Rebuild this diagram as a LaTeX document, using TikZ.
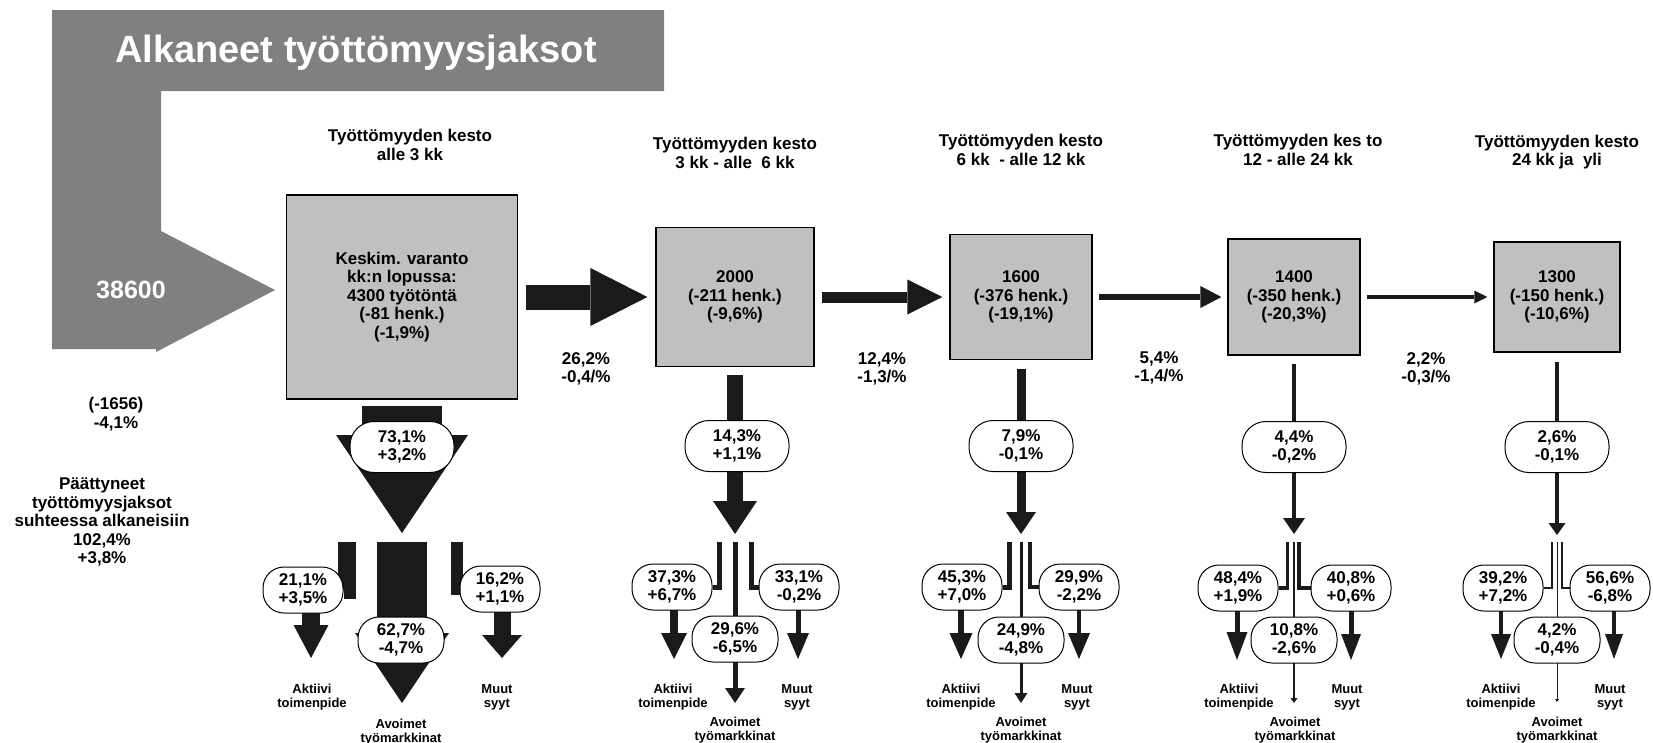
\documentclass[tikz,border=0pt]{standalone}
\usepackage{fontspec}
\setmainfont{Liberation Sans}
\usetikzlibrary{arrows.meta}
\definecolor{harmaa}{RGB}{128,128,128}
\definecolor{vaalea}{RGB}{192,192,192}
\definecolor{muste}{RGB}{26,26,26}
\pgfdeclarelayer{tausta}
\pgfsetlayers{tausta,main}
\tikzset{every picture/.style = {x=1pt, y=-1pt}}
\tikzset{teksti/.style = {align=center, inner sep=0, font=\fontsize{17}{18.5}\selectfont\bfseries}}
\tikzset{pieni/.style = {align=center, inner sep=0, font=\fontsize{13}{14}\selectfont\bfseries}}
\tikzset{kasti/.style = {teksti, draw, fill=vaalea, line width=1.2pt}}
\tikzset{osuus/.style = {teksti, draw, fill=white, line width=1pt, rounded corners=24pt, minimum width=104pt, minimum height=51pt}}
\tikzset{haara/.style = {osuus, rounded corners=21pt, minimum width=80pt, minimum height=46pt}}
\tikzset{nuoli/.style = {draw=muste}}
\tikzset{kolmio/.style 2 args = {-{Triangle[length=#1, width=#2, line width=0pt]}}}

\begin{document}
\begin{tikzpicture}
  \useasboundingbox (0,0) rectangle (1653,742);
  \fill[harmaa] (52,10) -- (664,10) -- (664,91) -- (161,91) -- (161,231)
    -- (275,290) -- (156,352) -- (156,349) -- (52,349) -- cycle;
  \node[teksti, text=white, font=\fontsize{38}{40}\selectfont\bfseries] (otsikko) at (356,53) {Alkaneet työttömyysjaksot};
  \node[teksti, text=white, font=\fontsize{25}{27}\selectfont\bfseries] (alku) at (131,290) {38600};

  \node[teksti] (o1) at (410,145) {Työttömyyden kesto\\alle 3 kk};
  \node[teksti] (o2) at (735,153) {Työttömyyden kesto\\3 kk - alle\ \ 6 kk};
  \node[teksti] (o3) at (1021,150) {Työttömyyden kesto\\6 kk\ \ - alle 12 kk};
  \node[teksti] (o4) at (1298,150) {Työttömyyden kes to\\12 - alle 24 kk};
  \node[teksti] (o5) at (1557,152) {Työttömyyden kesto\\24 kk ja\ \ yli};

  \node[kasti, minimum width=231pt, minimum height=204pt] (b1) at (402,297)
    {Keskim. varanto\\kk:n lopussa:\\4300 työtöntä\\(-81 henk.)\\(-1,9\%)};
  \node[kasti, minimum width=158pt, minimum height=139pt] (b2) at (735,297) {2000\\(-211 henk.)\\(-9,6\%)};
  \node[kasti, minimum width=142pt, minimum height=125pt] (b3) at (1021,297) {1600\\(-376 henk.)\\(-19,1\%)};
  \node[kasti, minimum width=132pt, minimum height=116pt] (b4) at (1294,297) {1400\\(-350 henk.)\\(-20,3\%)};
  \node[kasti, minimum width=126pt, minimum height=110pt] (b5) at (1557,297) {1300\\(-150 henk.)\\(-10,6\%)};

  \node[teksti] (s12) at (586,369) {26,2\%\\-0,4/\%};
  \node[teksti] (s23) at (882,369) {12,4\%\\-1,3/\%};
  \node[teksti] (s34) at (1159,368) {5,4\%\\-1,4/\%};
  \node[teksti] (s45) at (1426,369) {2,2\%\\-0,3/\%};

  \node[teksti] (poistuneet) at (116,414) {(-1656)\\-4,1\%};
  \node[teksti] (paattyneet) at (102,522)
    {Päättyneet\\työttömyysjaksot\\suhteessa alkaneisiin\\102,4\%\\+3,8\%};

  \node[osuus] (p1) at (402,447) {73,1\%\\+3,2\%};
  \node[osuus] (p2) at (737,446) {14,3\%\\+1,1\%};
  \node[osuus] (p3) at (1021,446) {7,9\%\\-0,1\%};
  \node[osuus] (p4) at (1294,447) {4,4\%\\-0,2\%};
  \node[osuus] (p5) at (1557,447) {2,6\%\\-0,1\%};

  \node[haara] (v1) at (303,590) {21,1\%\\+3,5\%};
  \node[haara, minimum width=86pt] (a1) at (401,640) {62,7\%\\-4,7\%};
  \node[haara] (m1) at (500,589) {16,2\%\\+1,1\%};
  \node[haara] (v2) at (672,587) {37,3\%\\+6,7\%};
  \node[haara, minimum width=86pt] (a2) at (735,639) {29,6\%\\-6,5\%};
  \node[haara] (m2) at (799,587) {33,1\%\\-0,2\%};
  \node[haara] (v3) at (962,587) {45,3\%\\+7,0\%};
  \node[haara, minimum width=86pt] (a3) at (1021,640) {24,9\%\\-4,8\%};
  \node[haara] (m3) at (1079,587) {29,9\%\\-2,2\%};
  \node[haara] (v4) at (1238,588) {48,4\%\\+1,9\%};
  \node[haara, minimum width=86pt] (a4) at (1294,640) {10,8\%\\-2,6\%};
  \node[haara] (m4) at (1351,588) {40,8\%\\+0,6\%};
  \node[haara] (v5) at (1503,588) {39,2\%\\+7,2\%};
  \node[haara, minimum width=86pt] (a5) at (1557,640) {4,2\%\\-0,4\%};
  \node[haara] (m5) at (1610,588) {56,6\%\\-6,8\%};

  \node[pieni] (akt1) at (312,697) {Aktiivi\\toimenpide};
  \node[pieni] (muu1) at (497,697) {Muut\\syyt};
  \node[pieni] (avo1) at (401,732) {Avoimet\\työmarkkinat};
  \node[pieni] (akt2) at (673,697) {Aktiivi\\toimenpide};
  \node[pieni] (muu2) at (797,697) {Muut\\syyt};
  \node[pieni] (avo2) at (735,730) {Avoimet\\työmarkkinat};
  \node[pieni] (akt3) at (961,697) {Aktiivi\\toimenpide};
  \node[pieni] (muu3) at (1077,697) {Muut\\syyt};
  \node[pieni] (avo3) at (1021,730) {Avoimet\\työmarkkinat};
  \node[pieni] (akt4) at (1239,697) {Aktiivi\\toimenpide};
  \node[pieni] (muu4) at (1347,697) {Muut\\syyt};
  \node[pieni] (avo4) at (1295,730) {Avoimet\\työmarkkinat};
  \node[pieni] (akt5) at (1501,697) {Aktiivi\\toimenpide};
  \node[pieni] (muu5) at (1610,697) {Muut\\syyt};
  \node[pieni] (avo5) at (1557,730) {Avoimet\\työmarkkinat};

  \coordinate (h1) at (402,542);
  \coordinate (tv1) at (311,658);
  \coordinate (ta1) at (402,703);
  \coordinate (tm1) at (502,658);
  \coordinate (h2) at (735,542);
  \coordinate (tv2) at (674,659);
  \coordinate (ta2) at (735,703);
  \coordinate (tm2) at (798,659);
  \coordinate (h3) at (1021,542);
  \coordinate (tv3) at (961,659);
  \coordinate (ta3) at (1021,703);
  \coordinate (tm3) at (1079,659);
  \coordinate (h4) at (1294,542);
  \coordinate (tv4) at (1237,660);
  \coordinate (ta4) at (1294,703);
  \coordinate (tm4) at (1351,660);
  \coordinate (h5) at (1557,542);
  \coordinate (tv5) at (1501,659);
  \coordinate (ta5) at (1557,702);
  \coordinate (tm5) at (1614,659);

  \begin{pgfonlayer}{tausta}
    \draw[nuoli, line width=25pt, kolmio={57pt}{58pt}, shorten <=8pt, shorten >=8pt] (b1) -- (b2);
    \draw[nuoli, line width=11pt, kolmio={35pt}{35pt}, shorten <=7pt, shorten >=7pt] (b2) -- (b3);
    \draw[nuoli, line width=6pt, kolmio={21pt}{22pt}, shorten <=6pt, shorten >=6pt] (b3) -- (b4);
    \draw[nuoli, line width=3.5pt, kolmio={13pt}{13pt}, shorten <=6pt, shorten >=6pt] (b4) -- (b5);

    \draw[nuoli, line width=80pt, kolmio={98pt}{132pt}, shorten <=6pt, shorten >=9pt] (b1) -- (h1);
    \draw[nuoli, line width=18pt] ([xshift=-55pt]h1) |- (v1);
    \draw[nuoli, line width=18pt, kolmio={33pt}{35pt}] (v1 -| tv1) -- (tv1);
    \draw[nuoli, line width=50pt, kolmio={70pt}{94pt}] (h1) -- (ta1);
    \draw[nuoli, line width=12pt] ([xshift=55pt]h1) |- (m1);
    \draw[nuoli, line width=17pt, kolmio={23pt}{40pt}] (m1 -| tm1) -- (tm1);

    \draw[nuoli, line width=16pt, kolmio={33pt}{44pt}, shorten <=8pt, shorten >=8pt] (b2) -- (h2);
    \draw[nuoli, line width=5pt] ([xshift=-15.5pt]h2) |- (v2);
    \draw[nuoli, line width=8pt, kolmio={26pt}{26pt}] (v2 -| tv2) -- (tv2);
    \draw[nuoli, line width=5pt, kolmio={15pt}{20pt}] (h2) -- (ta2);
    \draw[nuoli, line width=5pt] ([xshift=16.5pt]h2) |- (m2);
    \draw[nuoli, line width=5pt, kolmio={26pt}{22pt}] (m2 -| tm2) -- (tm2);

    \draw[nuoli, line width=9pt, kolmio={22pt}{30pt}, shorten <=9pt, shorten >=8pt] (b3) -- (h3);
    \draw[nuoli, line width=5pt] ([xshift=-11.5pt]h3) |- (v3);
    \draw[nuoli, line width=6pt, kolmio={26pt}{23pt}] (v3 -| tv3) -- (tv3);
    \draw[nuoli, line width=3pt, kolmio={10pt}{13pt}] (h3) -- (ta3);
    \draw[nuoli, line width=4pt] ([xshift=8.5pt]h3) |- (m3);
    \draw[nuoli, line width=4.5pt, kolmio={26pt}{22pt}] (m3 -| tm3) -- (tm3);

    \draw[nuoli, line width=4.5pt, kolmio={16pt}{22pt}, shorten <=8pt, shorten >=8pt] (b4) -- (h4);
    \draw[nuoli, line width=3.5pt] ([xshift=-6.5pt]h4) |- (v4);
    \draw[nuoli, line width=5pt, kolmio={28pt}{21pt}] (v4 -| tv4) -- (tv4);
    \draw[nuoli, line width=1.5pt, kolmio={5pt}{7pt}] (h4) -- (ta4);
    \draw[nuoli, line width=3.5pt] ([xshift=5pt]h4) |- (m4);
    \draw[nuoli, line width=5pt, kolmio={26pt}{20pt}] (m4 -| tm4) -- (tm4);

    \draw[nuoli, line width=4pt, kolmio={12pt}{17pt}, shorten <=9pt, shorten >=7pt] (b5) -- (h5);
    \draw[nuoli, line width=2.5pt] ([xshift=-5pt]h5) |- (v5);
    \draw[nuoli, line width=3.5pt, kolmio={25pt}{20pt}] (v5 -| tv5) -- (tv5);
    \draw[nuoli, line width=1pt, kolmio={3pt}{4pt}] (h5) -- (ta5);
    \draw[nuoli, line width=2.5pt] ([xshift=5pt]h5) |- (m5);
    \draw[nuoli, line width=4pt, kolmio={25pt}{18pt}] (m5 -| tm5) -- (tm5);
  \end{pgfonlayer}
\end{tikzpicture}
\end{document}
